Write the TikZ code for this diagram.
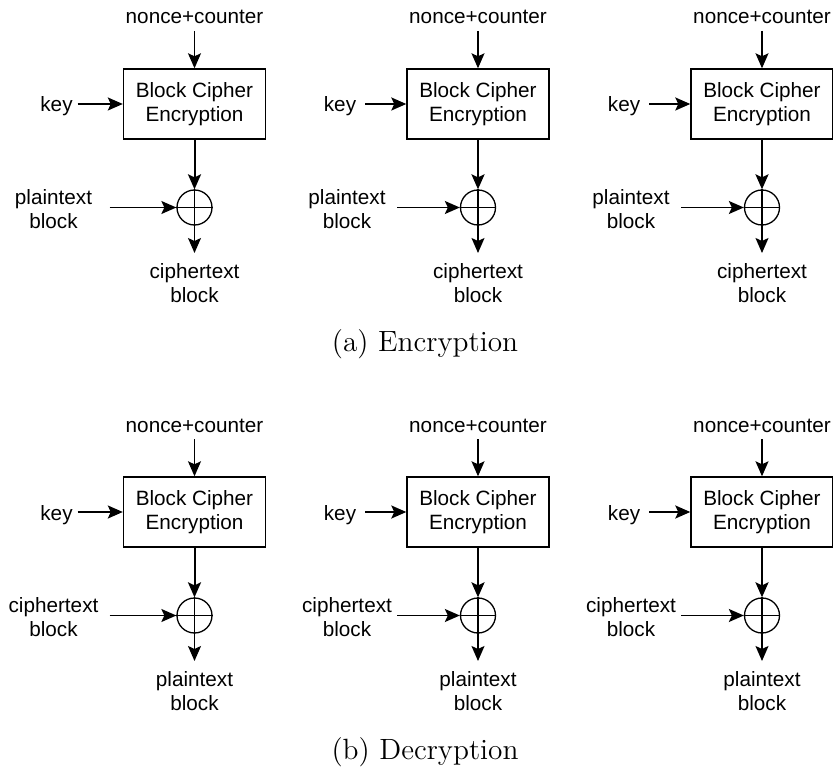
\documentclass[tikz,border=0pt]{standalone}
\usepackage{fontspec}
\newfontfamily\diagfont{Liberation Sans}
\newfontfamily\capfont{lmroman12-regular.otf}
\usetikzlibrary{arrows.meta}
\begin{document}
\begin{tikzpicture}[x=1pt,y=-1pt,
  lbl/.style={font=\diagfont\fontsize{20.7}{24}\selectfont, inner sep=0pt, align=center},
  cbox/.style={lbl, draw, line width=1.4pt, minimum width=142pt, minimum height=70pt},
  xorop/.style={draw, circle, line width=1.3pt, minimum size=35pt, inner sep=0pt},
  arr/.style={-{Stealth[length=15pt,width=13pt,inset=3pt]}, line width=1.5pt},
  thin arr/.style={arr, line width=1.2pt},
  thick arr/.style={arr, line width=2pt},
  subcaption/.style={font=\capfont\fontsize{29.3}{34}\selectfont, inner sep=0pt, anchor=base}
]
\useasboundingbox (0,0) rectangle (833,767);

% two rows of three CTR stages: encryption on top, decryption below
\foreach \rn/\dy/\inp/\outp in {a/0/plaintext/ciphertext, b/408/ciphertext/plaintext} {
  \foreach \k/\c/\lo/\ao/\ko in {1/194.5/141/85/117, 2/478/131/81/113, 3/762/131/81/113} {
    \node[lbl, anchor=base] (n\rn\k) at (\c, 24+\dy) {nonce+counter};
    \node[cbox] (b\rn\k) at (\c, 104+\dy) {Block Cipher\\Encryption};
    \node[xorop] (x\rn\k) at (\c, 207.5+\dy) {};
    \draw[line width=1.3pt] (x\rn\k.north) -- (x\rn\k.south)
                            (x\rn\k.west) -- (x\rn\k.east);
    \node[lbl, anchor=base] (k\rn\k) at (\c-138, 112+\dy) {key};
    \node[lbl] (i\rn\k) at (\c-\lo, 209+\dy) {\inp\\block};
    \node[lbl] (o\rn\k) at (\c, 283+\dy) {\outp\\block};

    \coordinate (ns\rn\k) at (\c, 31+\dy);
    \coordinate (ks\rn\k) at (\c-\ko, 104+\dy);
    \coordinate (is\rn\k) at (\c-\ao, 207.5+\dy);
    \coordinate (oe\rn\k) at (\c, 253+\dy);

    \draw[thin arr] (ns\rn\k) -- (b\rn\k.north);
    \draw[thick arr] (ks\rn\k) -- (b\rn\k.west);
    \draw[thick arr] (b\rn\k.south) -- (x\rn\k.north);
    \draw[arr] (is\rn\k) -- (x\rn\k.west);
    \draw[arr] (x\rn\k.south) -- (oe\rn\k);
  }
}

\node[subcaption] (capa) at (425, 352) {(a) Encryption};
\node[subcaption] (capb) at (425, 759) {(b) Decryption};
\end{tikzpicture}
\end{document}
